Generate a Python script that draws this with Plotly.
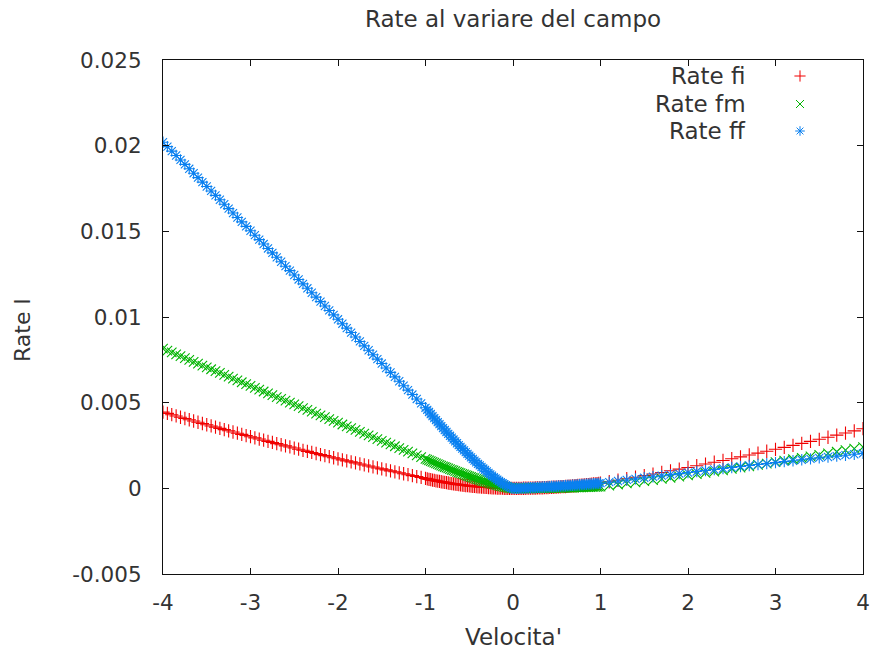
import plotly.graph_objects as go

# ---------------- data ----------------
X_LEFT = [-4.00, -3.95, -3.90, -3.85, -3.80, -3.75, -3.70, -3.65, -3.60, -3.55,
          -3.50, -3.45, -3.40, -3.35, -3.30, -3.25, -3.20, -3.15, -3.10, -3.05,
          -3.00, -2.95, -2.90, -2.85, -2.80, -2.75, -2.70, -2.65, -2.60, -2.55,
          -2.50, -2.45, -2.40, -2.35, -2.30, -2.25, -2.20, -2.15, -2.10, -2.05,
          -2.00, -1.95, -1.90, -1.85, -1.80, -1.75, -1.70, -1.65, -1.60, -1.55,
          -1.50, -1.45, -1.40, -1.35, -1.30, -1.25, -1.20, -1.15, -1.10, -1.05,
          -1.00]
X_INNER = [-0.96, -0.92, -0.88, -0.84, -0.80, -0.76, -0.72, -0.68, -0.64, -0.60,
           -0.56, -0.52, -0.48, -0.44, -0.40, -0.36, -0.32, -0.28, -0.24, -0.20,
           -0.16, -0.12, -0.08, -0.04, 0.00,
           0.04, 0.08, 0.12, 0.16, 0.20, 0.24, 0.28, 0.32, 0.36, 0.40,
           0.44, 0.48, 0.52, 0.56, 0.60, 0.64, 0.68, 0.72, 0.76, 0.80,
           0.84, 0.88, 0.92, 0.96]
X_INNER2 = [-0.98, -0.94, -0.90, -0.86, -0.82, -0.78, -0.74, -0.70, -0.66, -0.62,
            -0.58, -0.54, -0.50, -0.46, -0.42, -0.38, -0.34, -0.30, -0.26, -0.22,
            -0.18, -0.14, -0.10, -0.06, -0.02,
            0.02, 0.06, 0.10, 0.14, 0.18, 0.22, 0.26, 0.30, 0.34, 0.38,
            0.42, 0.46, 0.50, 0.54, 0.58, 0.62, 0.66, 0.70, 0.74, 0.78,
            0.82, 0.86, 0.90, 0.94, 0.98]
X_RIGHT = [1.0, 1.1, 1.2, 1.3, 1.4, 1.5, 1.6, 1.7, 1.8, 1.9,
           2.0, 2.1, 2.2, 2.3, 2.4, 2.5, 2.6, 2.7, 2.8, 2.9,
           3.0, 3.1, 3.2, 3.3, 3.4, 3.5, 3.6, 3.7, 3.8, 3.9,
           4.0]

FI_LEFT = [0.004449, 0.004374, 0.004299, 0.004224, 0.004150, 0.004076, 0.004003, 0.003930, 0.003857, 0.003784,
           0.003712, 0.003641, 0.003570, 0.003499, 0.003428, 0.003358, 0.003288, 0.003219, 0.003150, 0.003081,
           0.003013, 0.002945, 0.002877, 0.002810, 0.002743, 0.002677, 0.002611, 0.002545, 0.002479, 0.002414,
           0.002350, 0.002285, 0.002221, 0.002158, 0.002095, 0.002032, 0.001969, 0.001907, 0.001846, 0.001784,
           0.001723, 0.001663, 0.001602, 0.001542, 0.001483, 0.001424, 0.001365, 0.001307, 0.001248, 0.001191,
           0.001133, 0.001077, 0.001020, 0.000964, 0.000908, 0.000852, 0.000797, 0.000742, 0.000688, 0.000634,
           0.000580]
FI_INNER = [0.000525, 0.000482, 0.000441, 0.000402, 0.000365, 0.000329, 0.000295, 0.000264, 0.000233, 0.000205,
            0.000179, 0.000154, 0.000131, 0.000110, 0.000091, 0.000074, 0.000058, 0.000045, 0.000033, 0.000023,
            0.000015, 0.000008, 0.000004, 0.000001, 0.0,
            0.0000005, 0.000002, 0.000004, 0.000008, 0.000012, 0.000017, 0.000024, 0.000031, 0.000039, 0.000048,
            0.000058, 0.000069, 0.000081, 0.000094, 0.000108, 0.000123, 0.000139, 0.000156, 0.000173, 0.000192,
            0.000212, 0.000232, 0.000254, 0.000276]
FI_INNER2 = [0.000547, 0.000504, 0.000462, 0.000422, 0.000383, 0.000347, 0.000312, 0.000279, 0.000248, 0.000219,
             0.000192, 0.000166, 0.000143, 0.000121, 0.000101, 0.000082, 0.000066, 0.000051, 0.000039, 0.000028,
             0.000018, 0.000011, 0.000006, 0.000002, 0.0000002,
             0.0000001, 0.0000011, 0.000003, 0.0000059, 0.0000097, 0.0000145, 0.0000203, 0.000027, 0.0000347, 0.0000433,
             0.0000529, 0.0000635, 0.000075, 0.0000875, 0.0001009, 0.0001153, 0.0001307, 0.000147, 0.0001643, 0.0001825,
             0.0002017, 0.0002219, 0.000243, 0.0002651, 0.0002881]
FI_RIGHT = [0.000300, 0.000385, 0.000472, 0.000560, 0.000650, 0.000741, 0.000834, 0.000928, 0.001023, 0.001120,
            0.001218, 0.001317, 0.001418, 0.001521, 0.001625, 0.001730, 0.001837, 0.001945, 0.002054, 0.002165,
            0.002278, 0.002391, 0.002507, 0.002623, 0.002741, 0.002861, 0.002982, 0.003104, 0.003228, 0.003353,
            0.003480]

FM_LEFT = [0.008150, 0.008040, 0.007931, 0.007822, 0.007713, 0.007603, 0.007494, 0.007385, 0.007276, 0.007168,
           0.007059, 0.006950, 0.006842, 0.006733, 0.006625, 0.006516, 0.006408, 0.006300, 0.006192, 0.006083,
           0.005975, 0.005868, 0.005760, 0.005652, 0.005544, 0.005437, 0.005329, 0.005222, 0.005114, 0.005007,
           0.004900, 0.004793, 0.004686, 0.004579, 0.004472, 0.004365, 0.004258, 0.004152, 0.004045, 0.003939,
           0.003832, 0.003726, 0.003620, 0.003513, 0.003407, 0.003301, 0.003195, 0.003089, 0.002984, 0.002878,
           0.002772, 0.002667, 0.002561, 0.002456, 0.002350, 0.002245, 0.002140, 0.002035, 0.001930, 0.001825,
           0.001720]
FM_INNER = [0.001631, 0.001543, 0.001457, 0.001371, 0.001287, 0.001204, 0.001122, 0.001042, 0.000963, 0.000886,
            0.000809, 0.000735, 0.000662, 0.000592, 0.000523, 0.000456, 0.000391, 0.000329, 0.000269, 0.000212,
            0.000159, 0.000109, 0.000065, 0.000026, 0.0,
            0.0000002, 0.0000006, 0.0000014, 0.0000026, 0.0000040, 0.0000058, 0.0000078, 0.0000102, 0.0000130, 0.0000160,
            0.0000194, 0.0000230, 0.0000270, 0.0000314, 0.0000360, 0.0000410, 0.0000462, 0.0000518, 0.0000578, 0.0000640,
            0.0000706, 0.0000774, 0.0000846, 0.0000922]
FM_INNER2 = [0.001675, 0.001587, 0.001500, 0.001414, 0.001329, 0.001245, 0.001163, 0.001082, 0.001002, 0.000924,
             0.000847, 0.000772, 0.000699, 0.000627, 0.000557, 0.000489, 0.000423, 0.000360, 0.000299, 0.000240,
             0.000185, 0.000133, 0.000086, 0.000044, 0.000011,
             0.00000004, 0.00000036, 0.000001, 0.00000196, 0.00000324, 0.00000484, 0.00000676, 0.000009, 0.00001156, 0.00001444,
             0.00001764, 0.00002116, 0.000025, 0.00002916, 0.00003364, 0.00003844, 0.00004356, 0.000049, 0.00005476, 0.00006084,
             0.00006724, 0.00007396, 0.000081, 0.00008836, 0.00009604]
FM_RIGHT = [0.000100, 0.000161, 0.000223, 0.000286, 0.000350, 0.000416, 0.000482, 0.000550, 0.000618, 0.000688,
            0.000759, 0.000831, 0.000904, 0.000978, 0.001054, 0.001130, 0.001208, 0.001286, 0.001366, 0.001447,
            0.001529, 0.001612, 0.001697, 0.001782, 0.001868, 0.001956, 0.002045, 0.002135, 0.002226, 0.002318,
            0.002411]

FF_LEFT = [0.020200, 0.019942, 0.019683, 0.019425, 0.019167, 0.018908, 0.018650, 0.018392, 0.018133, 0.017875,
           0.017617, 0.017358, 0.017100, 0.016842, 0.016583, 0.016325, 0.016066, 0.015808, 0.015550, 0.015291,
           0.015033, 0.014775, 0.014516, 0.014258, 0.014000, 0.013741, 0.013483, 0.013225, 0.012966, 0.012708,
           0.012450, 0.012191, 0.011933, 0.011675, 0.011416, 0.011158, 0.010899, 0.010641, 0.010383, 0.010124,
           0.009866, 0.009608, 0.009349, 0.009091, 0.008833, 0.008574, 0.008316, 0.008058, 0.007799, 0.007541,
           0.007283, 0.007024, 0.006766, 0.006508, 0.006249, 0.005991, 0.005733, 0.005474, 0.005216, 0.004958,
           0.004699]
FF_INNER = [0.004457, 0.004217, 0.003980, 0.003747, 0.003517, 0.003290, 0.003067, 0.002847, 0.002631, 0.002420,
            0.002212, 0.002009, 0.001810, 0.001616, 0.001428, 0.001246, 0.001069, 0.000898, 0.000735, 0.000580,
            0.000434, 0.000298, 0.000176, 0.000071, 0.0,
            0.0000046, 0.0000113, 0.0000191, 0.0000277, 0.0000370, 0.0000469, 0.0000573, 0.0000682, 0.0000795, 0.0000912,
            0.0001032, 0.0001155, 0.0001282, 0.0001412, 0.0001545, 0.0001679, 0.0001817, 0.0001958, 0.0002100, 0.0002245,
            0.0002392, 0.0002541, 0.0002692, 0.0002845]
FF_INNER2 = [0.004578, 0.004337, 0.004098, 0.003863, 0.003631, 0.003403, 0.003178, 0.002956, 0.002738, 0.002525,
             0.002315, 0.002110, 0.001909, 0.001713, 0.001522, 0.001336, 0.001156, 0.000982, 0.000816, 0.000656,
             0.000506, 0.000365, 0.000236, 0.000121, 0.000029,
             0.0000019, 0.0000077, 0.000015, 0.0000233, 0.0000323, 0.0000419, 0.0000521, 0.0000627, 0.0000738, 0.0000853,
             0.0000971, 0.0001093, 0.0001218, 0.0001347, 0.0001478, 0.0001611, 0.0001748, 0.0001887, 0.0002028, 0.0002172,
             0.0002318, 0.0002466, 0.0002616, 0.0002768, 0.0002922]
FF_RIGHT = [0.000300, 0.000364, 0.000427, 0.000490, 0.000553, 0.000615, 0.000677, 0.000738, 0.000799, 0.000860,
            0.000920, 0.000980, 0.001039, 0.001098, 0.001157, 0.001215, 0.001273, 0.001330, 0.001387, 0.001444,
            0.001500, 0.001556, 0.001611, 0.001666, 0.001721, 0.001775, 0.001829, 0.001882, 0.001935, 0.001988,
            0.002040]

SERIES_NAMES = ["Rate fi", "Rate fm", "Rate ff"]
X_TICKS = [-4, -3, -2, -1, 0, 1, 2, 3, 4]
X_TICK_TEXT = ["-4", "-3", "-2", "-1", "0", "1", "2", "3", "4"]
Y_TICKS = [-0.005, 0.0, 0.005, 0.01, 0.015, 0.02, 0.025]
Y_TICK_TEXT = ["-0.005", "0", "0.005", "0.01", "0.015", "0.02", "0.025"]

TITLE = "Rate al variare del campo"
X_TITLE = "Velocita'"
Y_TITLE = "Rate l"

# ---------------- figure ----------------
X = X_LEFT + X_INNER + X_INNER2 + X_RIGHT
series = [FI_LEFT + FI_INNER + FI_INNER2 + FI_RIGHT,
          FM_LEFT + FM_INNER + FM_INNER2 + FM_RIGHT,
          FF_LEFT + FF_INNER + FF_INNER2 + FF_RIGHT]
colors = ["#f00000", "#00b400", "#0a80f0"]
symbols = ["cross-thin", "x-thin", "asterisk"]

FONT = "DejaVu Sans"
TXT = "#333333"
MSIZE = 9.5

# plot-area geometry in pixels (gnuplot-like frame)
L, R, T, B = 163, 863, 60, 574
W, H = R - L, B - T

fig = go.Figure()
for name, ys, col, sym in zip(SERIES_NAMES, series, colors, symbols):
    n = min(len(X), len(ys))
    fig.add_trace(go.Scatter(
        x=X[:n], y=ys[:n], mode="markers", name=name, showlegend=False,
        marker=dict(symbol=sym, size=MSIZE, color=col,
                    line=dict(color=col, width=1.1)),
    ))

# gnuplot-style key: right-aligned label followed by the sample symbol
key_rows_px = [76, 104, 131]
key_sym_x = (800 - L) / W
key_txt_x = (748 - L) / W
for name, col, sym, ypx in zip(SERIES_NAMES, colors, symbols, key_rows_px):
    yk = (B - ypx) / H
    fig.add_trace(go.Scatter(
        x=[key_sym_x], y=[yk], xaxis="x2", yaxis="y2", mode="markers",
        showlegend=False, hoverinfo="skip",
        marker=dict(symbol=sym, size=8, color=col, line=dict(color=col, width=1)),
    ))
    fig.add_annotation(text=name, xref="paper", yref="paper",
                       x=key_txt_x, y=yk, xanchor="right", yanchor="middle",
                       showarrow=False, font=dict(family=FONT, size=23, color=TXT))

axis_common = dict(
    showline=True, linecolor="#111", linewidth=1.2, mirror="allticks",
    ticks="inside", ticklen=6, tickwidth=1, tickcolor="#111",
    showgrid=False, zeroline=False,
    tickfont=dict(family=FONT, size=21.5, color=TXT),
)

fig.update_layout(
    width=875, height=655,
    margin=dict(l=L, r=875 - R, t=T, b=655 - B, autoexpand=False),
    paper_bgcolor="white", plot_bgcolor="white",
    font=dict(family=FONT, size=22, color=TXT),
    showlegend=False,
    title=dict(text=TITLE, x=(L + W / 2) / 875, xanchor="center",
               y=1 - 19 / 655, yanchor="middle",
               font=dict(family=FONT, size=23, color=TXT)),
    xaxis=dict(range=[-4, 4], tickvals=X_TICKS, ticktext=X_TICK_TEXT,
               ticklabelstandoff=9, **axis_common),
    yaxis=dict(range=[-0.005, 0.025], tickvals=Y_TICKS, ticktext=Y_TICK_TEXT,
               ticklabelstandoff=16, **axis_common),
    xaxis2=dict(overlaying="x", anchor="y2", range=[0, 1], visible=False, fixedrange=True),
    yaxis2=dict(overlaying="y", anchor="x2", range=[0, 1], visible=False, fixedrange=True),
)

fig.add_annotation(text=X_TITLE, xref="paper", yref="paper",
                   x=0.5, y=-(637 - B) / H, xanchor="center", yanchor="middle",
                   showarrow=False, font=dict(family=FONT, size=23, color=TXT))
fig.add_annotation(text=Y_TITLE, xref="paper", yref="paper",
                   x=(22 - L) / W, y=(B - 330) / H, xanchor="center", yanchor="middle",
                   textangle=-90, showarrow=False, font=dict(family=FONT, size=22, color=TXT))

fig.write_html("out.html")
